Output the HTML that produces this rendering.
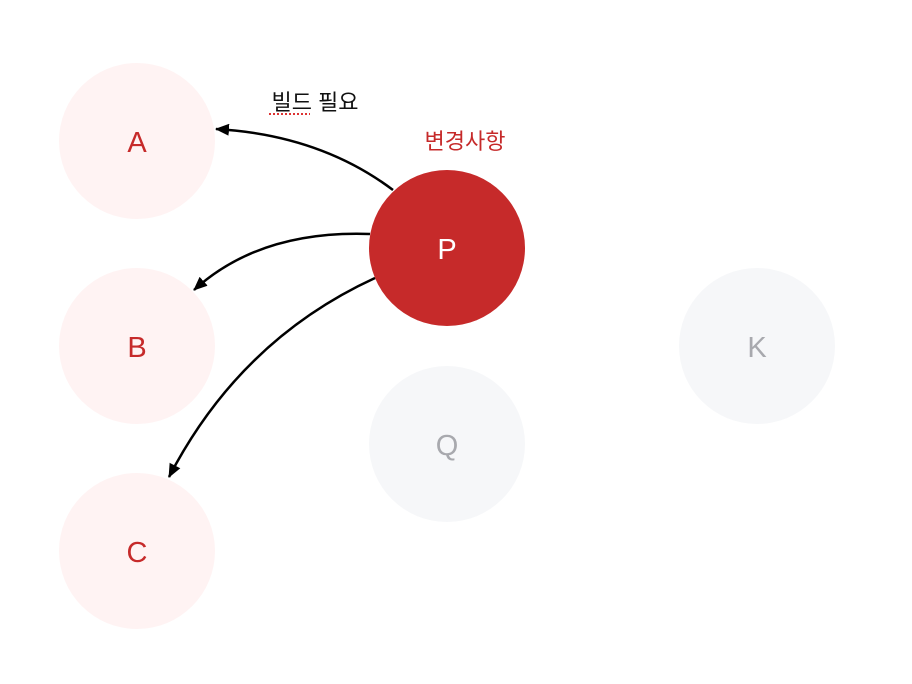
<!DOCTYPE html>
<html><head><meta charset="utf-8"><style>
body{margin:0;background:#fff;}
svg{display:block;}
text{font-family:"Liberation Sans","Noto Sans CJK KR",sans-serif;}
</style></head><body>
<svg width="912" height="684" viewBox="0 0 912 684" xmlns="http://www.w3.org/2000/svg">
<defs>
<marker id="ah" markerWidth="14" markerHeight="12" refX="13" refY="6" orient="auto" markerUnits="userSpaceOnUse">
<path d="M0,0 L14,6 L0,12 z" fill="#000"/>
</marker>
</defs>
<circle cx="137" cy="141" r="78" fill="#fff3f3"/>
<circle cx="137" cy="346" r="78" fill="#fff3f3"/>
<circle cx="137" cy="551" r="78" fill="#fff3f3"/>
<circle cx="447" cy="444" r="78" fill="#f6f7f9"/>
<circle cx="757" cy="346" r="78" fill="#f6f7f9"/>
<circle cx="447" cy="248" r="78" fill="#c62a2a"/>
<text x="137" y="152" font-size="29" fill="#c62a2a" text-anchor="middle">A</text>
<text x="137" y="357" font-size="29" fill="#c62a2a" text-anchor="middle">B</text>
<text x="137" y="562" font-size="29" fill="#c62a2a" text-anchor="middle">C</text>
<text x="447" y="259" font-size="29" fill="#fff" text-anchor="middle">P</text>
<text x="447" y="455" font-size="29" fill="#a8a9ae" text-anchor="middle">Q</text>
<text x="757" y="357" font-size="29" fill="#a8a9ae" text-anchor="middle">K</text>
<text x="315" y="110" font-size="22" fill="#111" text-anchor="middle">빌드 필요</text>
<line x1="269" y1="114" x2="310" y2="114" stroke="#d33" stroke-width="2" stroke-dasharray="2,2"/>
<text x="465" y="149" font-size="22" fill="#c62a2a" text-anchor="middle">변경사항</text>
<g fill="none" stroke="#000" stroke-width="2.5">
<path d="M393,190 Q320,135 216,129" marker-end="url(#ah)"/>
<path d="M370,234 Q260,230 194,290" marker-end="url(#ah)"/>
<path d="M375,278 Q240,340 169,477" marker-end="url(#ah)"/>
</g>
</svg>
</body></html>
